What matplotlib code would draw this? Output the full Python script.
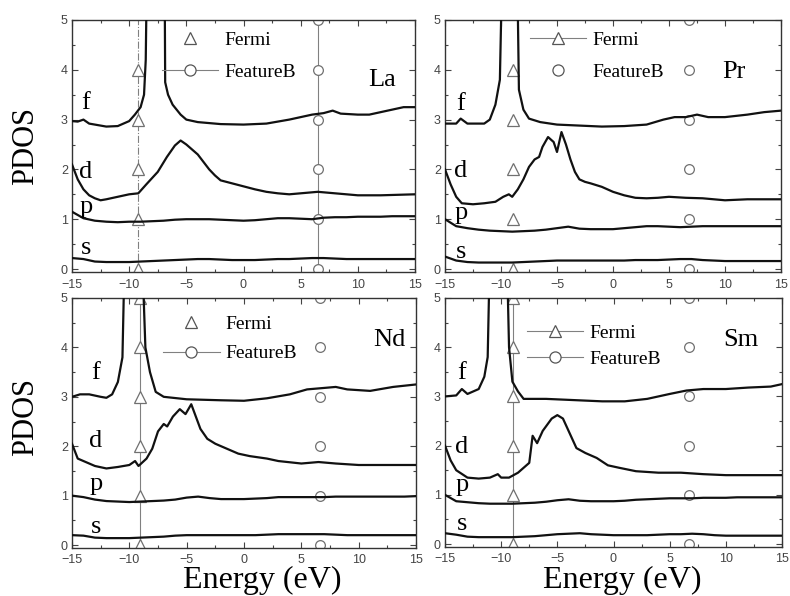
import numpy as np
import matplotlib.pyplot as plt
from matplotlib.lines import Line2D
from matplotlib.ticker import MultipleLocator

# energy grid used for the smooth s and p curves
E_GRID = list(range(-15, 16))

# ---- La ----
la_s = [0.22, 0.2, 0.15, 0.14, 0.14, 0.14, 0.15, 0.16, 0.17, 0.18, 0.19, 0.2, 0.2, 0.19, 0.18, 0.18,
        0.18, 0.19, 0.2, 0.2, 0.21, 0.22, 0.22, 0.21, 0.2, 0.2, 0.2, 0.2, 0.2, 0.2, 0.2]
la_p = [1.15, 1.02, 0.97, 0.95, 0.94, 0.95, 0.95, 0.96, 0.97, 0.99, 1.0, 1.0, 1.0, 0.99, 0.98, 0.97,
        0.98, 1.0, 1.02, 1.02, 1.01, 1.0, 1.03, 1.04, 1.04, 1.05, 1.05, 1.05, 1.06, 1.06, 1.06]
la_d_x = [-15, -14.5, -14, -13.5, -13, -12.5, -12, -11, -10, -9.2, -8.5, -7.5, -6.7, -6, -5.5, -5, -4.5,
          -4, -3.5, -3, -2.5, -2, -1, 0, 1, 2, 3, 4, 5, 6.5, 8, 10, 12, 15]
la_d = [2.1, 1.8, 1.6, 1.48, 1.42, 1.38, 1.4, 1.45, 1.5, 1.52, 1.7, 1.95, 2.25, 2.48, 2.58, 2.5, 2.4,
        2.3, 2.15, 2.0, 1.88, 1.78, 1.72, 1.66, 1.6, 1.55, 1.52, 1.5, 1.52, 1.55, 1.52, 1.48, 1.48, 1.5]
la_f_x = [-15, -14.5, -14, -13.5, -13, -12, -11, -10, -9.5, -9.0, -8.7, -8.55, -8.45, -7.7, -6.9, -6.85,
          -6.6, -6.2, -5.5, -5, -4, -2, 0, 2, 4, 5, 6, 7, 7.8, 8.5, 10, 11, 12, 13, 14, 15]
la_f = [2.97, 2.96, 3.0, 2.92, 2.9, 2.86, 2.87, 2.97, 3.1, 3.25, 3.5, 4.2, 6, 15, 6, 3.75,
        3.5, 3.3, 3.1, 3.0, 2.95, 2.91, 2.9, 2.92, 3.0, 3.05, 3.1, 3.13, 3.18, 3.12, 3.1, 3.1, 3.15, 3.2, 3.25, 3.25]

# ---- Pr ----
pr_s = [0.25, 0.17, 0.14, 0.13, 0.13, 0.13, 0.13, 0.14, 0.15, 0.16, 0.17, 0.17, 0.17, 0.17, 0.17, 0.17,
        0.17, 0.18, 0.18, 0.18, 0.19, 0.2, 0.2, 0.18, 0.17, 0.16, 0.16, 0.16, 0.16, 0.16, 0.16]
pr_p = [1.0, 0.86, 0.82, 0.79, 0.77, 0.76, 0.75, 0.76, 0.77, 0.79, 0.82, 0.85, 0.81, 0.8, 0.8, 0.8,
        0.82, 0.84, 0.86, 0.86, 0.85, 0.84, 0.85, 0.86, 0.86, 0.86, 0.86, 0.86, 0.86, 0.86, 0.86]
pr_d_x = [-15, -14.5, -14, -13.5, -12.5, -11.5, -10.5, -9.8, -9.3, -9, -8.5, -8, -7.5, -7, -6.6, -6.3,
          -5.8, -5.3, -5, -4.6, -4.2, -3.8, -3.4, -3, -2.5, -2, -1, 0, 1, 2, 3, 4, 5, 6.5, 8, 10, 12, 15]
pr_d = [2.0, 1.7, 1.45, 1.32, 1.3, 1.32, 1.35, 1.45, 1.5, 1.45, 1.6, 1.8, 2.05, 2.2, 2.25, 2.45,
        2.65, 2.55, 2.35, 2.75, 2.5, 2.2, 1.95, 1.8, 1.75, 1.72, 1.65, 1.55, 1.48, 1.43, 1.42, 1.43, 1.45,
        1.43, 1.42, 1.38, 1.4, 1.4]
pr_f_x = [-15, -14, -13.6, -13, -11.5, -11, -10.5, -10.1, -9.9, -9.2, -8.55, -8.4, -8, -7.5, -6.5, -5,
          -3, -1, 1, 3, 4.5, 5.5, 6.5, 7.5, 8.5, 10, 12, 13.5, 15]
pr_f = [2.92, 2.92, 3.02, 2.92, 2.92, 3.0, 3.3, 3.8, 6, 15, 6, 3.6, 3.2, 3.02, 2.95, 2.9,
        2.88, 2.86, 2.87, 2.9, 3.0, 3.05, 3.05, 3.1, 3.05, 3.05, 3.1, 3.15, 3.18]

# ---- Nd ----
nd_s = [0.2, 0.19, 0.15, 0.14, 0.14, 0.14, 0.15, 0.16, 0.17, 0.19, 0.2, 0.2, 0.2, 0.2, 0.2, 0.2,
        0.2, 0.21, 0.22, 0.22, 0.22, 0.22, 0.22, 0.21, 0.2, 0.2, 0.2, 0.2, 0.2, 0.2, 0.2]
nd_p = [1.0, 0.97, 0.92, 0.89, 0.88, 0.87, 0.88, 0.89, 0.9, 0.92, 0.96, 0.98, 0.95, 0.93, 0.93, 0.93,
        0.94, 0.95, 0.97, 0.97, 0.97, 0.97, 0.97, 0.98, 0.98, 0.98, 0.98, 0.98, 0.98, 0.98, 0.99]
nd_d_x = [-15, -14.5, -14, -13, -12, -11, -10, -9.5, -9.2, -8.5, -8, -7.5, -7, -6.7, -6.2, -5.6, -5.1,
          -4.6, -4.2, -3.8, -3.2, -2.5, -1.5, -0.5, 0.5, 2, 3, 5, 6.5, 8, 10, 15]
nd_d = [2.05, 1.75, 1.7, 1.6, 1.55, 1.58, 1.62, 1.7, 1.6, 1.75, 1.95, 2.3, 2.45, 2.4, 2.6, 2.75, 2.65,
        2.85, 2.6, 2.35, 2.15, 2.05, 1.95, 1.85, 1.8, 1.75, 1.7, 1.65, 1.68, 1.65, 1.62, 1.62]
nd_f_x = [-15, -14.3, -13.5, -12.5, -12, -11.5, -11, -10.6, -10.4, -9.6, -8.9, -8.6, -8.2, -7.7, -7, -5,
          -2, 0, 2, 4, 5.5, 7, 8, 9, 11, 13, 15]
nd_f = [3.0, 3.05, 3.05, 3.0, 2.98, 3.05, 3.3, 3.8, 6, 15, 6, 4.0, 3.5, 3.1, 3.0, 2.95,
        2.93, 2.92, 2.97, 3.05, 3.15, 3.18, 3.2, 3.15, 3.12, 3.2, 3.25]

# ---- Sm ----
sm_s = [0.22, 0.19, 0.15, 0.14, 0.14, 0.14, 0.14, 0.15, 0.16, 0.18, 0.2, 0.21, 0.22, 0.2, 0.19, 0.18,
        0.18, 0.18, 0.18, 0.19, 0.2, 0.2, 0.21, 0.2, 0.18, 0.17, 0.17, 0.17, 0.17, 0.17, 0.17]
sm_p = [1.0, 0.87, 0.85, 0.83, 0.82, 0.82, 0.82, 0.83, 0.84, 0.86, 0.89, 0.91, 0.88, 0.87, 0.87, 0.87,
        0.88, 0.9, 0.91, 0.92, 0.93, 0.93, 0.93, 0.94, 0.94, 0.94, 0.95, 0.95, 0.95, 0.95, 0.95]
sm_d_x = [-15, -14.5, -14, -13, -12, -11, -10.3, -10, -9.3, -8.5, -7.5, -7.2, -6.8, -6.3, -5.5, -5, -4.5,
          -4, -3.3, -2.5, -1.5, -0.5, 0.5, 2, 4, 6, 8, 10, 15]
sm_d = [2.0, 1.7, 1.5, 1.35, 1.33, 1.35, 1.42, 1.35, 1.35, 1.45, 1.65, 2.2, 2.05, 2.3, 2.55, 2.62, 2.55,
        2.3, 1.95, 1.85, 1.75, 1.6, 1.55, 1.48, 1.45, 1.45, 1.42, 1.4, 1.4]
sm_f_x = [-15, -14, -13.5, -13, -12.5, -12, -11.5, -11.2, -11.0, -10.2, -9.5, -9.3, -9, -8.5, -8, -6,
          -4, -1, 1, 3, 5, 6.5, 8, 10, 12, 14, 15]
sm_f = [3.0, 3.02, 3.15, 3.05, 3.1, 3.15, 3.4, 3.8, 6, 15, 6, 4.0, 3.3, 3.1, 2.95, 2.95,
        2.93, 2.9, 2.9, 2.95, 3.05, 3.12, 3.15, 3.15, 3.18, 3.2, 3.25]

# marker positions (Fermi level / feature B) per panel
fermi_e = {'La': -9.2, 'Pr': -8.95, 'Nd': -9.07, 'Sm': -8.92}
featb_e = {'La': 6.55, 'Pr': 6.75, 'Nd': 6.63, 'Sm': 6.75}
fermi_levels = {'La': [0, 1, 2, 3, 4], 'Pr': [0, 1, 2, 3, 4], 'Nd': [0, 1, 2, 3, 4, 5], 'Sm': [0, 1, 2, 3, 4, 5]}
featb_levels = [0, 1, 2, 3, 4, 5]

SERIF = ['Liberation Serif', 'DejaVu Serif']
SANS = ['Liberation Sans', 'DejaVu Sans']
GRAY = '#808080'

fig = plt.figure(figsize=(7.9, 5.96), dpi=100)
W, H = 790.0, 596.0


def add_ax(l, t, r, b):
    return fig.add_axes([l / W, 1 - b / H, (r - l) / W, (b - t) / H])


panels = [
    dict(name='La', box=(72, 20, 415, 272), s=la_s, p=la_p, d=(la_d_x, la_d), f=(la_f_x, la_f),
         fline='-.', bline='-', leg_line=(False, True), leg=(0.262, 0.955, 0.75), lab=(12.1, 3.8),
         orb=(-13.8, [3.33, 1.95, 1.25, 0.42]), xpad=5),
    dict(name='Pr', box=(445, 20, 781, 272), s=pr_s, p=pr_p, d=(pr_d_x, pr_d), f=(pr_f_x, pr_f),
         fline=None, bline=None, leg_line=(True, False), leg=(0.253, 0.955, 0.75), lab=(10.8, 3.95),
         orb=(-13.6, [3.31, 1.96, 1.13, 0.34]), xpad=5),
    dict(name='Nd', box=(72, 298, 416, 548), s=nd_s, p=nd_p, d=(nd_d_x, nd_d), f=(nd_f_x, nd_f),
         fline='-', bline=None, leg_line=(False, True), leg=(0.265, 0.93, 0.6), lab=(12.7, 4.15),
         orb=(-12.9, [3.48, 2.1, 1.23, 0.36]), xpad=4),
    dict(name='Sm', box=(445, 298, 782, 547), s=sm_s, p=sm_p, d=(sm_d_x, sm_d), f=(sm_f_x, sm_f),
         fline='-', bline=None, leg_line=(True, True), leg=(0.243, 0.895, 0.45), lab=(11.3, 4.15),
         orb=(-13.5, [3.48, 1.98, 1.2, 0.4]), xpad=4),
]

for pn in panels:
    ax = add_ax(*pn['box'])
    nm = pn['name']
    ax.set_xlim(-15, 15)
    ax.set_ylim(-0.06, 5)

    # reference lines and markers
    if pn['fline']:
        ax.axvline(fermi_e[nm], color=GRAY, lw=0.8, ls=pn['fline'], zorder=1)
    if pn['bline']:
        ax.axvline(featb_e[nm], color=GRAY, lw=0.8, ls=pn['bline'], zorder=1)
    ax.plot([fermi_e[nm]] * len(fermi_levels[nm]), fermi_levels[nm], ls='none', marker='^', ms=8,
            mfc='white', mec='#707070', mew=0.9, zorder=2)
    ax.plot([featb_e[nm]] * len(featb_levels), featb_levels, ls='none', marker='o', ms=7,
            mfc='white', mec='#707070', mew=0.9, zorder=2)

    # PDOS curves
    ax.plot(E_GRID, pn['s'], color='#111111', lw=1.6, zorder=3)
    ax.plot(E_GRID, pn['p'], color='#111111', lw=1.6, zorder=3)
    ax.plot(pn['d'][0], pn['d'][1], color='#111111', lw=1.6, zorder=3)
    ax.plot(pn['f'][0], pn['f'][1], color='#111111', lw=1.6, zorder=3)

    ox, oys = pn['orb']
    for lbl, oy in zip(['f', 'd', 'p', 's'], oys):
        ax.text(ox, oy, lbl, fontsize=19, family=SERIF, ha='center', va='center', zorder=4)
    ax.text(pn['lab'][0], pn['lab'][1], nm, fontsize=19, family=SERIF, ha='center', va='center')

    fl, bl = pn['leg_line']
    h1 = Line2D([], [], color=GRAY, lw=0.8, ls='-' if fl else 'none', marker='^', ms=8,
                mfc='white', mec='#555555', mew=0.9)
    h2 = Line2D([], [], color=GRAY, lw=0.8, ls='-' if bl else 'none', marker='o', ms=8,
                mfc='white', mec='#555555', mew=0.9)
    lx, ly, ls_ = pn['leg']
    ax.legend([h1, h2], ['Fermi', 'FeatureB'], loc='upper left', bbox_to_anchor=(lx, ly),
              frameon=False, prop={'family': SERIF, 'size': 14}, handlelength=2.9,
              handletextpad=0.3, labelspacing=ls_, borderpad=0, borderaxespad=0)

    ax.xaxis.set_major_locator(MultipleLocator(5))
    ax.xaxis.set_minor_locator(MultipleLocator(2.5))
    ax.yaxis.set_major_locator(MultipleLocator(1))
    ax.yaxis.set_minor_locator(MultipleLocator(0.5))
    ax.tick_params(which='both', direction='in', top=True, right=True, colors='#444444',
                   labelsize=9, width=0.8)
    ax.tick_params(which='major', length=4, pad=2)
    ax.tick_params(which='minor', length=2)
    ax.tick_params(axis='x', which='major', pad=pn['xpad'])
    ax.tick_params(axis='y', which='major', pad=3)
    for lab in ax.get_xticklabels() + ax.get_yticklabels():
        lab.set_family(SANS)
    for sp in ax.spines.values():
        sp.set_color('#333333')
        sp.set_linewidth(1.0)

# axis titles as figure text
fig.text(26 / W, 1 - 146 / H, 'PDOS', rotation=90, fontsize=22, family=SERIF, ha='center', va='center')
fig.text(26 / W, 1 - 417 / H, 'PDOS', rotation=90, fontsize=22, family=SERIF, ha='center', va='center')
fig.text(262 / W, 1 - 588 / H, 'Energy (eV)', fontsize=23, family=SERIF, ha='center', va='baseline')
fig.text(622 / W, 1 - 588 / H, 'Energy (eV)', fontsize=23, family=SERIF, ha='center', va='baseline')

fig.savefig('out.png', dpi=100)
